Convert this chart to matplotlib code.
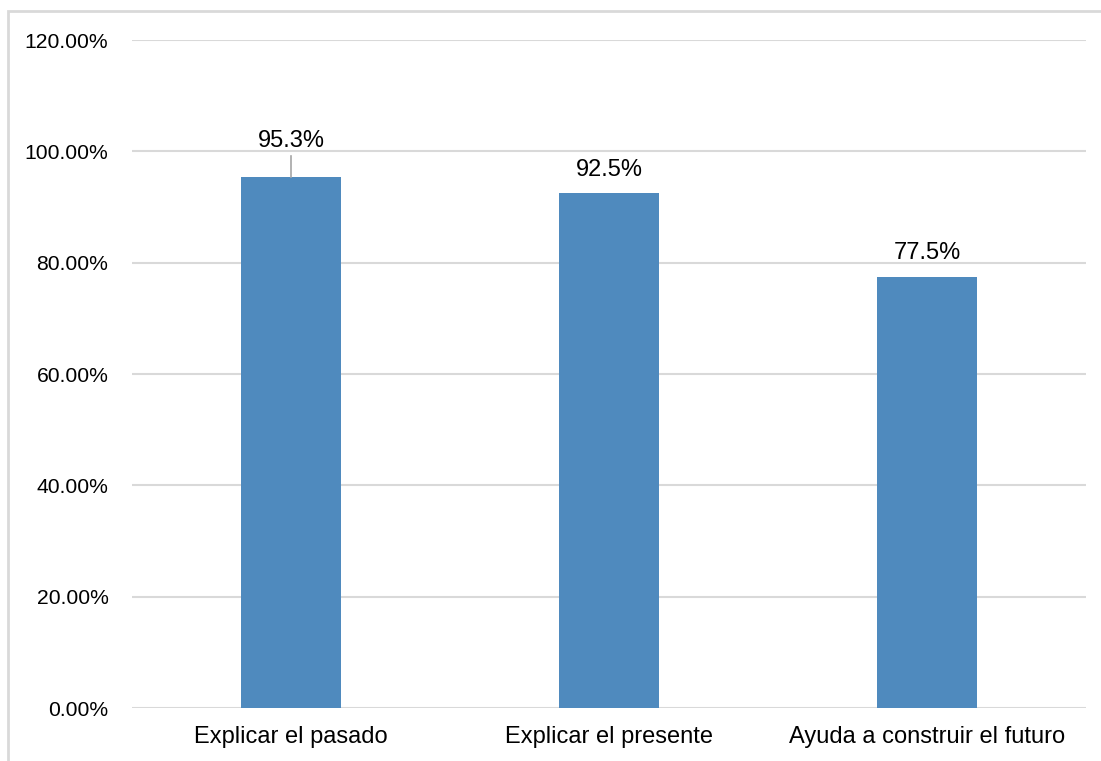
import matplotlib.pyplot as plt
from matplotlib.patches import Rectangle
from matplotlib.ticker import PercentFormatter

categories = ['Explicar el pasado', 'Explicar el presente', 'Ayuda a construir el futuro']
values = [95.3, 92.5, 77.5]
labels = ['95.3%', '92.5%', '77.5%']
yticks = [0, 20, 40, 60, 80, 100, 120]

plt.rcParams['font.family'] = ['Liberation Sans', 'DejaVu Sans']

fig = plt.figure(figsize=(11.01, 7.61), dpi=100)
ax = fig.add_axes([132 / 1101, 1 - 708 / 761, (1086 - 132) / 1101, (708 - 40) / 761])

x = range(len(categories))
bars = ax.bar(x, values, width=0.314, color='#4F8ABE', zorder=3)

ax.set_ylim(0, 120)
ax.set_xlim(-0.5, len(categories) - 0.5)
ax.set_yticks(yticks)
ax.yaxis.set_major_formatter(PercentFormatter(decimals=2))
ax.set_xticks(list(x))
ax.set_xticklabels(categories, fontsize=17)
ax.tick_params(axis='y', length=0, pad=17, labelsize=15.2)
ax.tick_params(axis='x', length=0, pad=13)
ax.grid(axis='y', color='#D9D9D9', linewidth=1.5, zorder=0)
for s in ax.spines.values():
    s.set_visible(False)

# data labels; the first one sits higher with a leader line
for i, (v, lab) in enumerate(zip(values, labels)):
    if i == 0:
        ax.text(i, v + 6.5, lab, ha='center', va='center', fontsize=17)
        ax.plot([i, i], [v, v + 3.8], color='#A6A6A6', linewidth=1.2, zorder=4)
    else:
        ax.text(i, v + 4.2, lab, ha='center', va='center', fontsize=17)

# chart border (only top and left are visible in the crop)
fig.patches.append(Rectangle((8 / 1101, -0.1), 1.2, 1 - 11 / 761 + 0.1,
                             transform=fig.transFigure, fill=False,
                             edgecolor='#D9D9D9', linewidth=2))

fig.savefig('out.png', dpi=100)
